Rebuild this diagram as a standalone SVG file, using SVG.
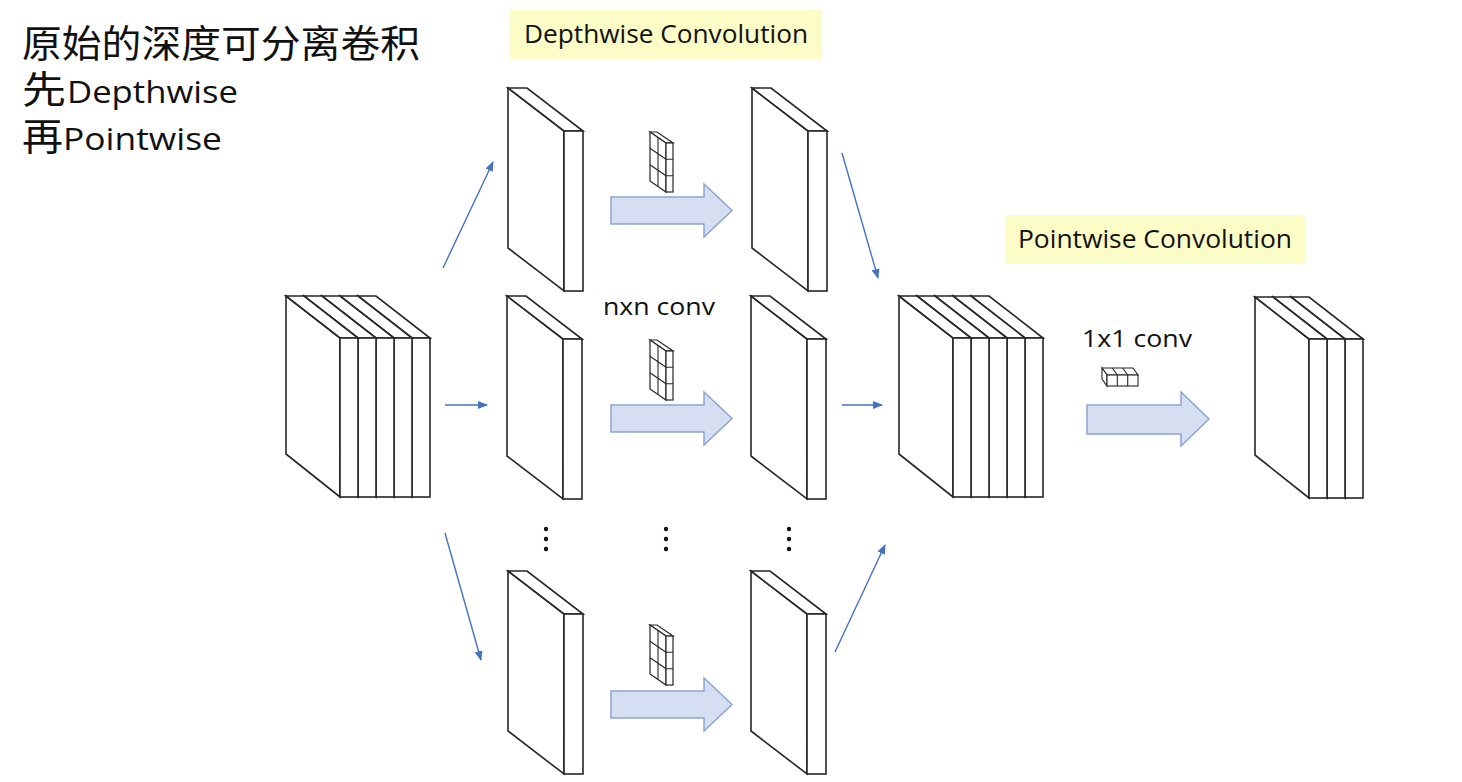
<svg xmlns="http://www.w3.org/2000/svg" xmlns:xlink="http://www.w3.org/1999/xlink" width="1462" height="782" viewBox="0 0 1462 782">
<style>
.ln{fill:#fff;stroke:#262626;stroke-width:1.6;stroke-linejoin:miter}
.gr{fill:none;stroke:#262626;stroke-width:1.1}
.con{fill:none;stroke:#4472C4;stroke-width:1.4}
.blk{fill:#D5DFF1;stroke:#8CA5D4;stroke-width:1.5}
.lab{fill:#FCFCC6}
.cjk{font-family:"Liberation Sans","Noto Sans CJK SC",sans-serif;fill:#111}
.lat{font-family:"Open Sans","Noto Sans",sans-serif;fill:#111}
.dot{fill:#111}
</style>
<defs>
<marker id="ah" markerWidth="10" markerHeight="8" refX="9" refY="4" orient="auto" markerUnits="userSpaceOnUse">
<path d="M0,0 L10,4 L0,8 Z" fill="#4472C4"/>
</marker>
<g id="slab">
<polygon class="ln" points="0,0 56,43 56,203 0,160"/>
<polygon class="ln" points="0,0 19,0 75,43 56,43"/>
<rect class="ln" x="56" y="43" width="19" height="160"/>
</g>
<g id="layer">
<polygon class="ln" points="0,0 54,42 54,201 0,158"/>
<polygon class="ln" points="0,0 18,0 72,42 54,42"/>
<rect class="ln" x="54" y="42" width="18" height="159"/>
</g>
<g id="kernel">
<polygon class="ln" style="stroke-width:1.2" points="0,0 7,0 23,11 16,11"/>
<polygon class="ln" style="stroke-width:1.2" points="0,0 16,11 16,60 0,49"/>
<rect class="ln" style="stroke-width:1.2" x="16" y="11" width="7" height="49"/>
<path class="gr" d="M8,5.5 V54.5 M0,16.3 L16,27.3 M0,32.7 L16,43.7 M16,27.3 H23 M16,43.7 H23"/>
</g>
<path id="blkArrow" class="blk" d="M0,-13.5 H93 V-26.5 L121,0 L93,26.5 V13.5 H0 Z"/>
</defs>

<g id="title">
<text class="cjk" x="22" y="57" font-size="38" textLength="398" lengthAdjust="spacingAndGlyphs">原始的深度可分离卷积</text>
<text class="cjk" x="22" y="103" font-size="38" textLength="44" lengthAdjust="spacingAndGlyphs">先</text>
<text class="lat" x="67" y="103" font-size="31" textLength="171" lengthAdjust="spacingAndGlyphs">Depthwise</text>
<text class="cjk" x="22" y="150" font-size="38" textLength="41" lengthAdjust="spacingAndGlyphs">再</text>
<text class="lat" x="63" y="150" font-size="31" textLength="159" lengthAdjust="spacingAndGlyphs">Pointwise</text>
</g>

<g id="label-depthwise">
<rect class="lab" x="510" y="10" width="312" height="49"/>
<text class="lat" x="524" y="43" font-size="25" textLength="284" lengthAdjust="spacingAndGlyphs">Depthwise Convolution</text>
</g>
<g id="label-pointwise">
<rect class="lab" x="1005" y="215" width="300" height="49"/>
<text class="lat" x="1018" y="248" font-size="25" textLength="274" lengthAdjust="spacingAndGlyphs">Pointwise Convolution</text>
</g>

<g id="input-stack">
<use href="#layer" x="358" y="296"/>
<use href="#layer" x="340" y="296"/>
<use href="#layer" x="322" y="296"/>
<use href="#layer" x="304" y="296"/>
<use href="#layer" x="286" y="296"/>
</g>

<g id="slab-a1"><use href="#slab" x="508" y="88"/></g>
<g id="slab-a2"><use href="#slab" x="507" y="296"/></g>
<g id="slab-a3"><use href="#slab" x="508" y="571"/></g>
<g id="slab-b1"><use href="#slab" x="752" y="88"/></g>
<g id="slab-b2"><use href="#slab" x="751" y="296"/></g>
<g id="slab-b3"><use href="#slab" x="751" y="571"/></g>

<g id="output-stack">
<use href="#layer" x="971" y="296"/>
<use href="#layer" x="953" y="296"/>
<use href="#layer" x="935" y="296"/>
<use href="#layer" x="917" y="296"/>
<use href="#layer" x="899" y="296"/>
</g>

<g id="final-stack">
<use href="#layer" x="1291" y="297"/>
<use href="#layer" x="1273" y="297"/>
<use href="#layer" x="1255" y="297"/>
</g>

<g id="dw-conv-1">
<use href="#kernel" x="650" y="132"/>
<use href="#blkArrow" x="611" y="210.5"/>
</g>
<g id="dw-conv-2">
<text class="lat" x="603" y="315" font-size="23" textLength="112" lengthAdjust="spacingAndGlyphs">nxn conv</text>
<use href="#kernel" x="650" y="340"/>
<use href="#blkArrow" x="611" y="418.5"/>
</g>
<g id="dw-conv-3">
<use href="#kernel" x="650" y="625"/>
<use href="#blkArrow" x="611" y="704.5"/>
</g>

<g id="pw-conv">
<text class="lat" x="1082" y="347" font-size="23" textLength="110" lengthAdjust="spacingAndGlyphs">1x1 conv</text>
<g id="pw-kernel">
<path class="ln" style="stroke-width:1.1" d="M1102,368 H1133 L1138,375 H1107 Z"/>
<path class="ln" style="stroke-width:1.1" d="M1102,368 L1107,375 V386 L1102,379 Z"/>
<rect class="ln" style="stroke-width:1.1" x="1107" y="375" width="31" height="11"/>
<path class="gr" d="M1117.3,375 V386 M1127.7,375 V386 M1112.3,368 L1117.3,375 M1122.7,368 L1127.7,375"/>
</g>
<path class="blk" d="M1087,405 H1181 V392 L1209,419 L1181,446 V434 H1087 Z"/>
</g>

<g id="ellipsis">
<circle class="dot" cx="546" cy="529" r="2.2"/><circle class="dot" cx="546" cy="539" r="2.2"/><circle class="dot" cx="546" cy="549" r="2.2"/>
<circle class="dot" cx="666" cy="529" r="2.2"/><circle class="dot" cx="666" cy="539" r="2.2"/><circle class="dot" cx="666" cy="549" r="2.2"/>
<circle class="dot" cx="789" cy="529" r="2.2"/><circle class="dot" cx="789" cy="539" r="2.2"/><circle class="dot" cx="789" cy="549" r="2.2"/>
</g>

<g id="connectors">
<line class="con" x1="443" y1="268" x2="493" y2="162" marker-end="url(#ah)"/>
<line class="con" x1="445" y1="405" x2="487" y2="405" marker-end="url(#ah)"/>
<line class="con" x1="445" y1="533" x2="481" y2="660" marker-end="url(#ah)"/>
<line class="con" x1="842" y1="153" x2="878" y2="278" marker-end="url(#ah)"/>
<line class="con" x1="842" y1="405" x2="882" y2="405" marker-end="url(#ah)"/>
<line class="con" x1="835" y1="652" x2="885" y2="545" marker-end="url(#ah)"/>
</g>
</svg>
